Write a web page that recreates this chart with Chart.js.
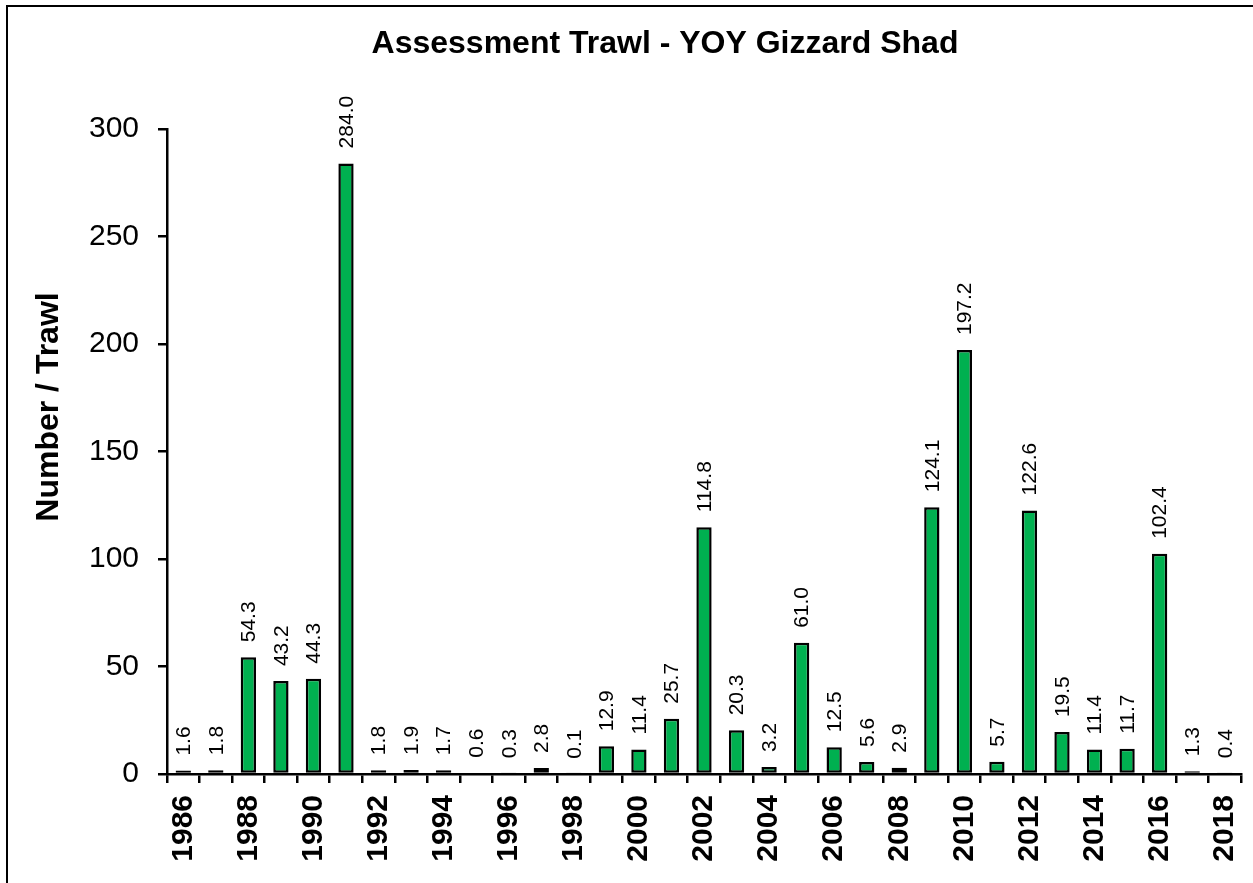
<!DOCTYPE html>
<html>
<head>
<meta charset="utf-8">
<script src="https://cdn.jsdelivr.net/npm/chart.js@4/dist/chart.umd.min.js"></script>
<style>
  html, body { margin: 0; padding: 0; background: #fff; }
  #wrap { position: relative; width: 1253px; height: 883px; }
</style>
</head>
<body>
<div id="wrap"><canvas id="c" width="1253" height="883"></canvas></div>
<script>
const years = [1986,1987,1988,1989,1990,1991,1992,1993,1994,1995,1996,1997,1998,1999,2000,2001,2002,2003,2004,2005,2006,2007,2008,2009,2010,2011,2012,2013,2014,2015,2016,2017,2018];
const numberPerTrawl = [1.6,1.8,54.3,43.2,44.3,284.0,1.8,1.9,1.7,0.6,0.3,2.8,0.1,12.9,11.4,25.7,114.8,20.3,3.2,61.0,12.5,5.6,2.9,124.1,197.2,5.7,122.6,19.5,11.4,11.7,102.4,1.3,0.4];
const yTicks = [0,50,100,150,200,250,300];
const chartTitle = 'Assessment Trawl - YOY Gizzard Shad';
const yAxisTitle = 'Number / Trawl';

const FONT = '"Liberation Sans", Arial, sans-serif';

const decorPlugin = {
  id: 'decor',
  beforeDraw(chart) {
    const ctx = chart.ctx;
    ctx.save();
    ctx.fillStyle = '#fff';
    ctx.fillRect(0, 0, chart.width, chart.height);
    ctx.fillStyle = '#000';
    ctx.fillRect(6, 5, 2, chart.height);
    ctx.fillRect(6, 5, chart.width, 2);
    ctx.restore();
  },
  afterDraw(chart) {
    const ctx = chart.ctx;
    ctx.save();
    // title
    ctx.fillStyle = '#000';
    ctx.font = 'bold 32px ' + FONT;
    ctx.textAlign = 'center';
    ctx.textBaseline = 'middle';
    ctx.fillText(chartTitle, 665, 44);
    // y axis title
    ctx.save();
    ctx.translate(49, 407);
    ctx.rotate(-Math.PI / 2);
    ctx.font = 'bold 32px ' + FONT;
    ctx.fillText(yAxisTitle, 0, 0);
    ctx.restore();
    // value labels
    const meta = chart.getDatasetMeta(0);
    ctx.font = '21px ' + FONT;
    ctx.textAlign = 'left';
    ctx.textBaseline = 'middle';
    meta.data.forEach((bar, i) => {
      ctx.save();
      ctx.translate(bar.x + 1, bar.y - 15);
      ctx.rotate(-Math.PI / 2);
      ctx.fillText(numberPerTrawl[i].toFixed(1), 0, 0);
      ctx.restore();
    });
    ctx.restore();
  }
};

new Chart(document.getElementById('c'), {
  type: 'bar',
  data: {
    labels: years.map(String),
    datasets: [{
      data: numberPerTrawl,
      backgroundColor: '#00B050',
      borderColor: '#000',
      borderWidth: 2.5,
      borderSkipped: false,
      barPercentage: 0.47,
      categoryPercentage: 1.0
    }]
  },
  options: {
    responsive: false,
    animation: false,
    devicePixelRatio: 1,
    layout: { padding: { top: 129, right: 12, left: 0, bottom: 0 } },
    plugins: { legend: { display: false }, tooltip: { enabled: false }, title: { display: false } },
    scales: {
      x: {
        grid: { offset: true, drawOnChartArea: false, drawTicks: true, tickLength: 9, color: '#000', lineWidth: 2.5 },
        border: { display: true, color: '#000', width: 2.5 },
        ticks: {
          autoSkip: false,
          maxRotation: 90,
          minRotation: 90,
          padding: 12,
          color: '#000',
          font: { family: FONT, size: 30, weight: 'bold' },
          callback: function(val, idx) { return years[idx] % 2 === 0 ? String(years[idx]) : ''; }
        },
        afterFit(scale) { scale.height = 109; scale.paddingLeft = 0; scale.paddingRight = 0; }
      },
      y: {
        min: 0, max: 300,
        afterBuildTicks(scale) { scale.ticks = yTicks.map(v => ({ value: v })); },
        grid: { drawOnChartArea: false, drawTicks: true, tickLength: 9, color: '#000', lineWidth: 2.5 },
        border: { display: true, color: '#000', width: 2.5 },
        ticks: {
          padding: 19,
          color: '#000',
          font: { family: FONT, size: 30 }
        },
        afterFit(scale) { scale.width = 167; scale.paddingTop = 0; scale.paddingBottom = 0; }
      }
    }
  },
  plugins: [decorPlugin]
});
</script>
</body>
</html>
